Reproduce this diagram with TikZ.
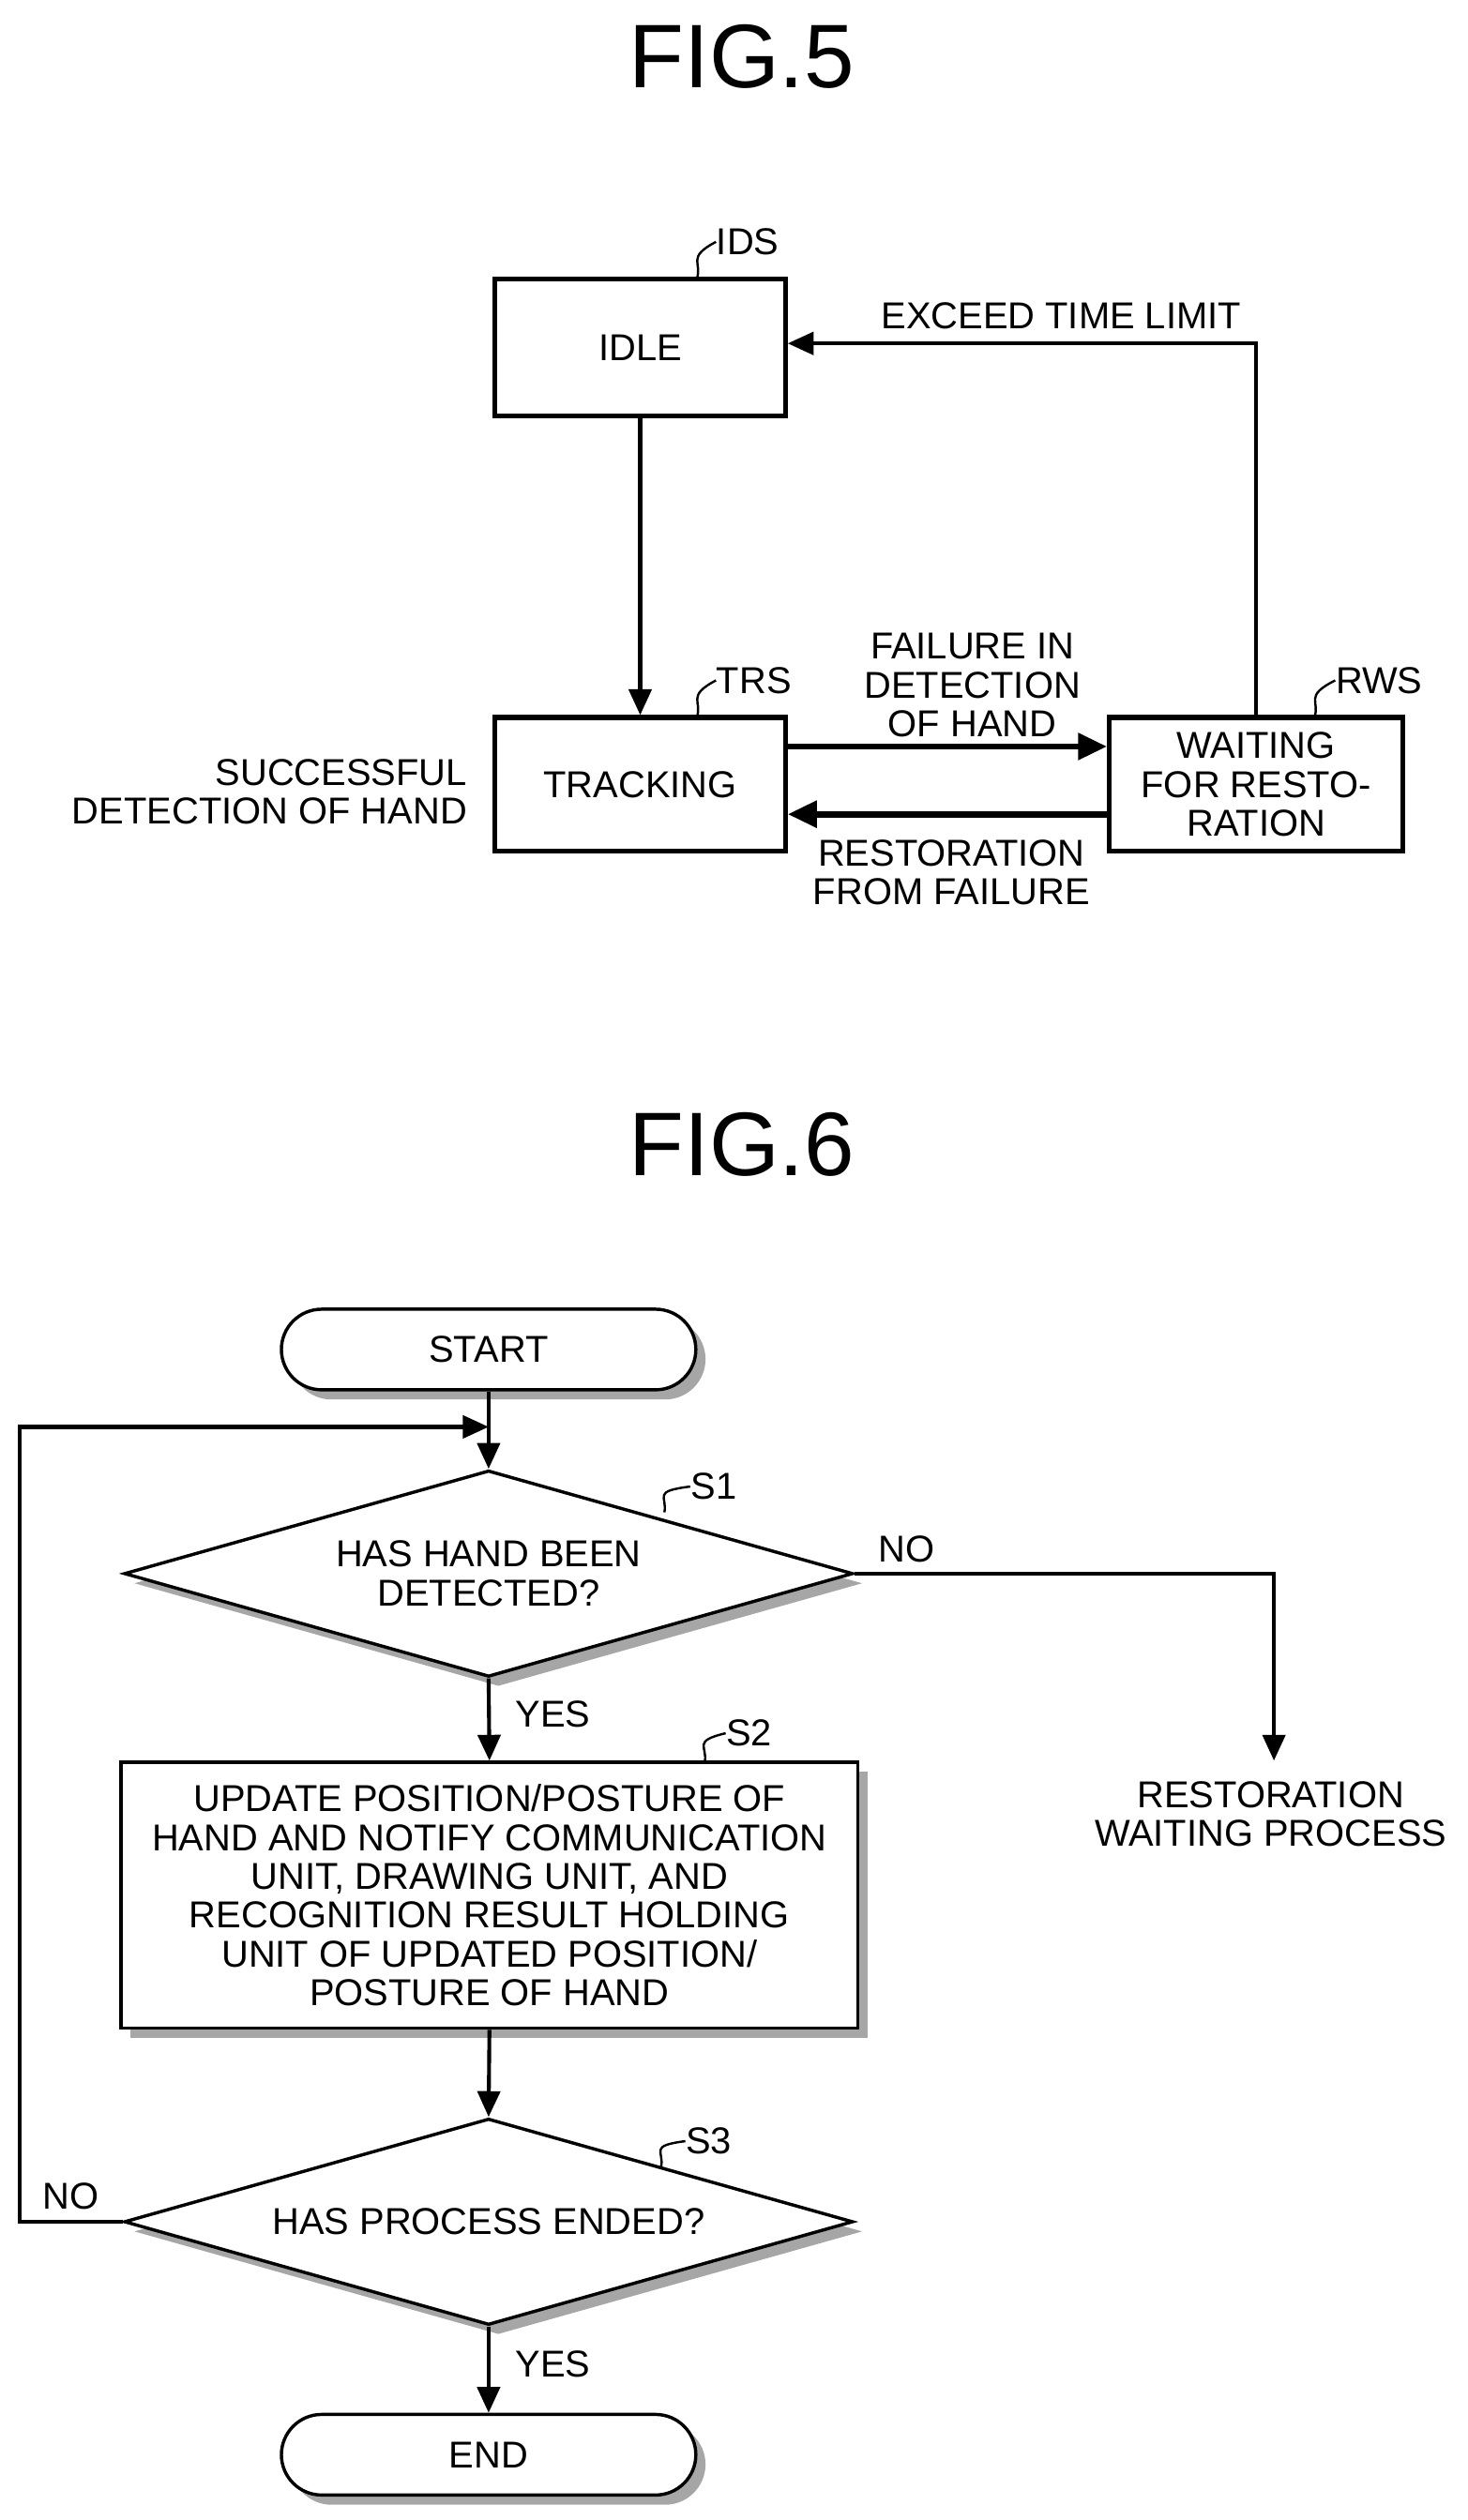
\documentclass[tikz,border=0pt]{standalone}
\usepackage{fontspec}
\setmainfont{Liberation Sans}
\usetikzlibrary{shapes.geometric,shapes.misc,arrows.meta,shadows}
\begin{document}
\begin{tikzpicture}[x=0.5pt,y=-0.5pt,
 txt/.style={font=\fontsize{11.6}{12}\selectfont,align=center,inner sep=0},
 box/.style={draw,line width=1.5pt,fill=white,txt},
 shd/.style={drop shadow={shadow xshift=3pt,shadow yshift=-3pt,fill=gray!70,opacity=1}},
 term/.style={box,rounded rectangle,minimum width=128.5pt,minimum height=25pt,line width=1pt,shd},
 dia/.style={box,diamond,aspect=3.53,minimum width=226pt,minimum height=64pt,line width=1pt,shd},
 arr/.style={line width=1.2pt,-{Triangle[length=8pt,width=7pt]}},
 barr/.style={line width=2pt,-{Triangle[length=9pt,width=8pt]}},
 sq/.style={line width=0.7pt},
 title/.style={font=\fontsize{28}{30}\selectfont,inner sep=0}]
\useasboundingbox (0,0) rectangle (910,1563);
\node[title] (t5) at (460,35) {FIG.5};
\node[box,minimum width=90pt,minimum height=42.5pt] (idle) at (397,215.5) {IDLE};
\node[box,minimum width=90pt,minimum height=41.5pt] (trk) at (397,486.5) {TRACKING};
\node[box,minimum width=91pt,minimum height=41.5pt] (rws) at (779,486.5) {WAITING\\FOR RESTO-\\RATION};
\node[txt,anchor=west] (ids) at (444,150) {IDS};
\node[txt,anchor=west] (trs) at (444,422) {TRS};
\node[txt,anchor=west] (rwsl) at (828,422) {RWS};
\draw[sq] (432,173) .. controls (436,163) and (425,160) .. (ids.west);
\draw[sq] (432,445) .. controls (436,435) and (425,432) .. (trs.west);
\draw[sq] (815,445) .. controls (819,435) and (808,432) .. (rwsl.west);
\draw[arr] (idle.south) -- (trk.north);
\coordinate (c1) at (779,213);
\draw[arr] (rws.north) -- (c1) -- (idle.east|-c1);
\node[txt] (ex) at (658,196) {EXCEED TIME LIMIT};
\coordinate (f1) at (0,463);
\coordinate (f2) at (0,505);
\draw[barr] (trk.east|-f1) -- (rws.west|-f1);
\draw[barr] (rws.west|-f2) -- (trk.east|-f2);
\node[txt] (fail) at (603,425) {FAILURE IN\\DETECTION\\OF HAND};
\node[txt] (rest) at (590,541) {RESTORATION\\FROM FAILURE};
\node[txt,align=right,anchor=east] (succ) at (290,491) {SUCCESSFUL\\DETECTION OF HAND};
\node[title] (t6) at (460,710) {FIG.6};
\node[term] (start) at (303,837) {START};
\node[dia] (s1) at (303,976) {HAS HAND BEEN\\DETECTED?};
\node[box,line width=1pt,shd,minimum width=228.5pt,minimum height=82.5pt] (s2) at (303.5,1175.5) {UPDATE POSITION/POSTURE OF\\HAND AND NOTIFY COMMUNICATION\\UNIT, DRAWING UNIT, AND\\RECOGNITION RESULT HOLDING\\UNIT OF UPDATED POSITION/\\POSTURE OF HAND};
\node[dia] (s3) at (303,1378) {HAS PROCESS ENDED?};
\node[term] (end) at (303,1522.5) {END};
\node[txt] (rwp) at (788,1125) {RESTORATION\\WAITING PROCESS};
\node[txt,anchor=west] (s1l) at (428,922) {S1};
\node[txt,anchor=west] (s2l) at (450,1075) {S2};
\node[txt,anchor=west] (s3l) at (425,1328) {S3};
\draw[sq] (412,938) .. controls (414,928) and (404,925) .. (s1l.west);
\draw[sq] (437,1093) .. controls (439,1083) and (429,1080) .. (s2l.west);
\draw[sq] (410,1344) .. controls (412,1334) and (402,1331) .. (s3l.west);
\coordinate (m) at (303,885);
\coordinate (rt) at (790,1092);
\draw[arr] (start.south) -- (s1.north);
\draw[arr] (s3.west) -- (12,1378) -- (12,885) -- (m);
\draw[arr] (s1.east) -- (790,976) -- (rt);
\draw[arr] (s1.south) -- (s2.north);
\draw[arr] (s2.south) -- (s3.north);
\draw[arr] (s3.south) -- (end.north);
\node[txt] (no1) at (562,961) {NO};
\node[txt] (yes1) at (343,1063) {YES};
\node[txt] (no2) at (44,1362) {NO};
\node[txt] (yes2) at (343,1466) {YES};
\end{tikzpicture}
\end{document}
